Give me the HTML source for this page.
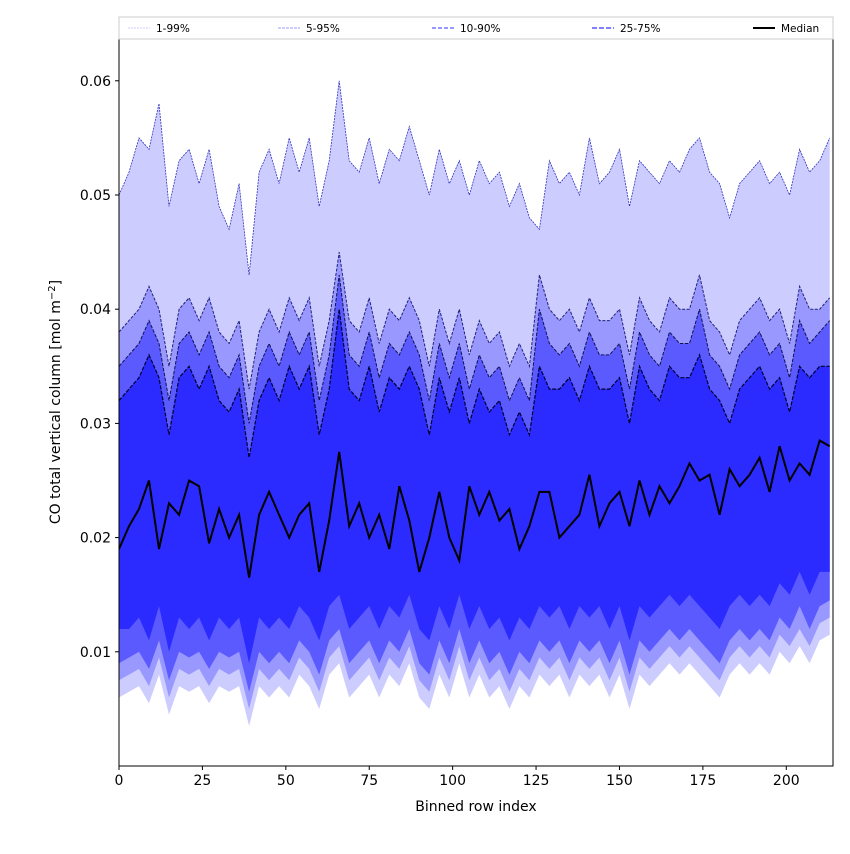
<!DOCTYPE html>
<html><head><meta charset="utf-8"><style>
body{margin:0;background:#fff;font-family:"DejaVu Sans","Liberation Sans",sans-serif}
svg text{font-family:"DejaVu Sans","Liberation Sans",sans-serif}
</style></head><body>
<svg id="chart" width="850" height="850" viewBox="0 0 850 850"></svg>
<script>
// values in units of 1e-3 mol m^-2, sampled every 3 binned rows
const rowIndex = [];
for (let i = 0; i < 72; i++) rowIndex.push(i * 3);
const p99 = [50,52,55,54,58,49,53,54,51,54,49,47, 51,43,52,54,51,55,52,55,49,53,60,53, 52,55,51,54,53,56,53,50,54,51,53,50, 53,51,52,49,51,48,47,53,51,52,50,55, 51,52,54,49,53,52,51,53,52,54,55,52, 51,48,51,52,53,51,52,50,54,52,53,55];
const p95 = [38,39,40,42,40,35,40,41,39,41,38,37, 39,33,38,40,38,41,39,41,35,39,45,39, 38,41,37,40,39,41,39,35,40,37,40,36, 39,37,38,35,37,35,43,40,39,40,38,41, 39,39,40,36,41,39,38,41,40,40,43,39, 38,36,39,40,41,39,40,37,42,40,40,41];
const p90 = [35,36,37,39,37,32,37,38,36,38,35,34, 36,30,35,37,35,38,36,38,32,36,43,36, 35,38,34,37,36,38,36,32,37,34,37,33, 36,34,35,32,34,32,40,37,36,37,35,38, 36,36,37,33,38,36,35,38,37,37,40,36, 35,33,36,37,38,36,37,34,39,37,38,39];
const p75 = [32,33,34,36,34,29,34,35,33,35,32,31, 33,27,32,34,32,35,33,35,29,33,40,33, 32,35,31,34,33,35,33,29,34,31,34,30, 33,31,32,29,31,29,35,33,33,34,32,35, 33,33,34,30,35,33,32,35,34,34,36,33, 32,30,33,34,35,33,34,31,35,34,35,35];
const p50 = [19,21,22.5,25,19,23,22,25,24.5,19.5,22.5,20, 22,16.5,22,24,22,20,22,23,17,21.5,27.5,21, 23,20,22,19,24.5,21.5,17,20,24,20,18,24.5, 22,24,21.5,22.5,19,21,24,24,20,21,22,25.5, 21,23,24,21,25,22,24.5,23,24.5,26.5,25,25.5, 22,26,24.5,25.5,27,24,28,25,26.5,25.5,28.5,28];
const p25 = [12,12,13,11,14,10,13,12,13,11,13,12, 13,9,13,12,13,12,14,13,11,14,15,12, 13,14,12,14,13,15,12,11,14,12,15,12, 14,12,13,11,13,12,14,13,14,12,14,13, 14,12,14,11,14,13,14,15,14,15,14,13, 12,14,15,14,15,14,16,15,17,15,17,17];
const p10 = [9,9.5,10,8.5,11,7.5,10,9.5,10,8.5,10,9.5, 10,6.5,10,9,10,9,11,10,8,11,12,9, 10,11,9,11,10,12,9,8,11,9,12,9, 11,9,10,8,10,9,11,10,11,9,11,10, 11,9,11,8,11,10,11,12,11,12,11,10, 9,11,12,11,12,11,13,12,14,12,14,14.5];
const p5 = [7.5,8,8.5,7,9.5,6,8.5,8,8.5,7,8.5,8, 8.5,5,8.5,7.5,8.5,7.5,9.5,8.5,6.5,9.5,10.5,7.5, 8.5,9.5,7.5,9.5,8.5,10.5,7.5,6.5,9.5,7.5,10.5,7.5, 9.5,7.5,8.5,6.5,8.5,7.5,9.5,8.5,9.5,7.5,9.5,8.5, 9.5,7.5,9.5,6.5,9.5,8.5,9.5,10.5,9.5,10.5,9.5,8.5, 7.5,9.5,10.5,9.5,10.5,9.5,11.5,10.5,12,10.5,12.5,13];
const p1 = [6,6.5,7,5.5,8,4.5,7,6.5,7,5.5,7,6.5, 7,3.5,7,6,7,6,8,7,5,8,9,6, 7,8,6,8,7,9,6,5,8,6,9,6, 8,6,7,5,7,6,8,7,8,6,8,7, 8,6,8,5,8,7,8,9,8,9,8,7, 6,8,9,8,9,8,10,9,10.5,9,11,11.5];
const xTicks = [0,25,50,75,100,125,150,175,200];
const yTicks = [0.01,0.02,0.03,0.04,0.05,0.06];

const svg = document.getElementById('chart');
const NS = 'http://www.w3.org/2000/svg';
const X0=119,X1=833,Y0=766,Y1=39, XMAX=214, YMAX=0.06366;
const xs = v => X0 + v/XMAX*(X1-X0);
const ys = v => Y0 - v/YMAX*(Y0-Y1);
const val = a => a.map(v => v*1e-3);
function mk(tag, attrs){const e=document.createElementNS(NS,tag);for(const k in attrs)e.setAttribute(k,attrs[k]);svg.appendChild(e);return e;}
function pts(arr){return val(arr).map((v,i)=>xs(rowIndex[i]).toFixed(1)+','+ys(v).toFixed(1));}

const clip = document.createElementNS(NS,'clipPath'); clip.setAttribute('id','pc');
const cr = document.createElementNS(NS,'rect'); cr.setAttribute('x',X0);cr.setAttribute('y',Y1);cr.setAttribute('width',X1-X0);cr.setAttribute('height',Y0-Y1);
clip.appendChild(cr); svg.appendChild(clip);
const g = mk('g',{'clip-path':'url(#pc)'});
function band(lo,hi,color,name){
  const p=document.createElementNS(NS,'polygon');
  p.setAttribute('points',pts(hi).concat(pts(lo).reverse()).join(' '));
  p.setAttribute('fill',color);
  
  
  g.appendChild(p);
}
band(p1,p99,'#ccccff','band-1-99');
band(p5,p95,'#9898ff','band-5-95');
band(p10,p90,'#5a5aff','band-10-90');
band(p25,p75,'#2b2bff','band-25-75');
function line(arr,color,w,dash,name){
  const p=document.createElementNS(NS,'polyline');
  p.setAttribute('points',pts(arr).join(' '));
  p.setAttribute('fill','none');p.setAttribute('stroke',color);p.setAttribute('stroke-width',w);
  if(dash)p.setAttribute('stroke-dasharray',dash);
  
  
  g.appendChild(p);
}
line(p99,'#3333bb',0.8,'2,1','line-p99');
line(p95,'#22227a',1,'3,1.5','line-p95');
line(p90,'#111155',1,'3.5,1.5','line-p90');
line(p75,'#000033',1.2,'4,1.5','line-p75');
line(p50,'#000',2,null,'median-line');

mk('rect',{x:X0,y:Y1,width:X1-X0,height:Y0-Y1,fill:'none',stroke:'#000','stroke-width':1,});
xTicks.forEach(t=>{
  const x=xs(t);
  mk('line',{x1:x,x2:x,y1:Y0,y2:Y0+4,stroke:'#000',});
  const tx=mk('text',{x:x,y:Y0+19,'text-anchor':'middle','font-size':14,});tx.textContent=t;
});
yTicks.forEach(t=>{
  const y=ys(t);
  mk('line',{x1:X0-4,x2:X0,y1:y,y2:y,stroke:'#000',});
  const tx=mk('text',{x:X0-8,y:y+5,'text-anchor':'end','font-size':14,});tx.textContent=t.toFixed(2);
});
const xl=mk('text',{x:476,y:811,'text-anchor':'middle','font-size':14,});xl.textContent='Binned row index';
const yl=mk('text',{x:0,y:0,transform:'translate(60,402) rotate(-90)','text-anchor':'middle','font-size':14,});
yl.innerHTML='CO total vertical column [mol m<tspan dy="-5" font-size="10">−2</tspan><tspan dy="5">]</tspan>';

// legend
mk('rect',{x:119,y:17,width:714,height:22,fill:'#fff',stroke:'#ccc',});
const leg=[['1-99%',120,'#ccccff','2,1',1],['5-95%',270,'#9898ff','3,1',1],['10-90%',424,'#5a5aff','4,2',1.2],['25-75%',584,'#5555ff','5,2',1.5],['Median',745,'#000',null,2]];
leg.forEach(l=>{
  const a={x1:l[1]+8,x2:l[1]+30,y1:28,y2:28,stroke:l[2],'stroke-width':l[4],};
  if(l[3])a['stroke-dasharray']=l[3];
  mk('line',a);
  const t=mk('text',{x:l[1]+36,y:32,'font-size':10.5,});t.textContent=l[0];
});
</script>
</body></html>
